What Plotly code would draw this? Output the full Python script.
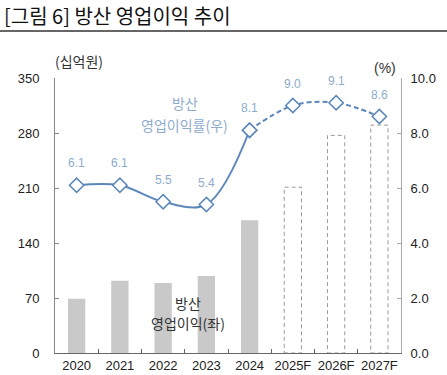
import plotly.graph_objects as go

years = ["2020", "2021", "2022", "2023", "2024", "2025F", "2026F", "2027F"]
profit = [69, 92, 89, 98, 169, 211, 277, 290]          # 십억원 (left)
margin = [6.1, 6.1, 5.5, 5.4, 8.1, 9.0, 9.1, 8.6]       # % (right)
n_actual = 5

KFONT = "Noto Sans CJK KR"
NFONT = "Liberation Sans, Arial, sans-serif"
LINE_C = "#5b87ba"
LABEL_C = "#8eabcc"
BAR_C = "#c9c9c9"

fig = go.Figure()

bar_colors = [BAR_C] * n_actual + ["rgba(255,255,255,0)"] * (len(years) - n_actual)
fig.add_trace(go.Bar(x=years, y=profit, marker=dict(color=bar_colors, line=dict(width=0)),
                     width=0.4, showlegend=False, hoverinfo="skip"))
shapes = []
for i in range(n_actual, len(years)):
    shapes.append(dict(type="rect", xref="x", yref="y", x0=i - 0.2, x1=i + 0.2, y0=0, y1=profit[i],
                       line=dict(color="#999999", width=1, dash="4px,3px"), fillcolor="rgba(0,0,0,0)",
                       layer="below"))

mk = dict(symbol="diamond", size=11, color="white", line=dict(color=LINE_C, width=1.5))
fig.add_trace(go.Scatter(x=years[:n_actual], y=margin[:n_actual], yaxis="y2", mode="lines+markers",
                         line=dict(color=LINE_C, width=2, shape="spline", smoothing=1.0),
                         marker=mk, showlegend=False, hoverinfo="skip"))
fig.add_trace(go.Scatter(x=years[n_actual - 1:], y=margin[n_actual - 1:], yaxis="y2", mode="lines+markers",
                         line=dict(color=LINE_C, width=2, dash="5px,3px", shape="spline", smoothing=1.0),
                         marker=mk, showlegend=False, hoverinfo="skip"))

annotations = []
for i, v in enumerate(margin):
    annotations.append(dict(text=f"{v:.1f}", xref="x", yref="y2", x=i, y=v, yshift=22,
                            showarrow=False, font=dict(family=NFONT, size=12, color=LABEL_C)))

annotations += [
    dict(text="[그림 6] 방산 영업이익 추이", xref="paper", yref="paper", x=-53/346, y=1 + 63/275,
         xanchor="left", yanchor="middle", showarrow=False,
         font=dict(family=KFONT, size=20, color="#111111")),
    dict(text="(십억원)", xref="paper", yref="paper", x=-2/346, y=1 + 17/275, xanchor="left",
         yanchor="middle", showarrow=False, font=dict(family=KFONT, size=14, color="#333333")),
    dict(text="(%)", xref="paper", yref="paper", x=1 - 3/346, y=1 + 10/275, xanchor="right",
         yanchor="middle", showarrow=False, font=dict(family=NFONT, size=14, color="#333333")),
    dict(text="방산", xref="x", yref="y", x=2.5, y=318, showarrow=False,
         font=dict(family=KFONT, size=14, color=LABEL_C)),
    dict(text="영업이익률(우)", xref="x", yref="y", x=2.5, y=290, showarrow=False,
         font=dict(family=KFONT, size=14, color=LABEL_C)),
    dict(text="방산", xref="x", yref="y", x=2.57, y=64, showarrow=False,
         font=dict(family=KFONT, size=14, color="#333333")),
    dict(text="영업이익(좌)", xref="x", yref="y", x=2.57, y=38, showarrow=False,
         font=dict(family=KFONT, size=14, color="#333333")),
]

shapes.append(dict(type="line", xref="paper", yref="paper", x0=-55/346, x1=1 + 46/346,
                   y0=1 + 47/275, y1=1 + 47/275, line=dict(color="#333333", width=1.5)))

fig.update_layout(
    width=447, height=375,
    margin=dict(l=55, r=46, t=78, b=22, autoexpand=False),
    paper_bgcolor="white", plot_bgcolor="white",
    xaxis=dict(type="category", showline=True, linecolor="#666666", linewidth=1,
               ticks="inside", tickson="boundaries", ticklen=4, tickcolor="#666666",
               tickfont=dict(family=NFONT, size=13, color="#222222"), showgrid=False,
               range=[-0.5, 7.5], tickangle=0, automargin=False),
    yaxis=dict(range=[0, 350], dtick=70, showline=True, linecolor="#888888", linewidth=1,
               ticks="inside", ticklen=4, tickcolor="#888888", showgrid=False, zeroline=False,
               tickfont=dict(family=NFONT, size=13, color="#222222"), ticklabelstandoff=12,
               automargin=False),
    yaxis2=dict(range=[0, 10], dtick=2, tickformat=".1f", overlaying="y", side="right",
                showline=True, linecolor="#aaaaaa", linewidth=1, ticks="inside", ticklen=4,
                tickcolor="#aaaaaa", showgrid=False, zeroline=False,
                tickfont=dict(family=NFONT, size=13, color="#222222"), ticklabelstandoff=6,
                automargin=False),
    annotations=annotations,
    shapes=shapes,
)

fig.write_html("out.html", config={"displayModeBar": False},
               post_script="document.body.style.margin='0px';document.body.style.overflow='hidden';")
